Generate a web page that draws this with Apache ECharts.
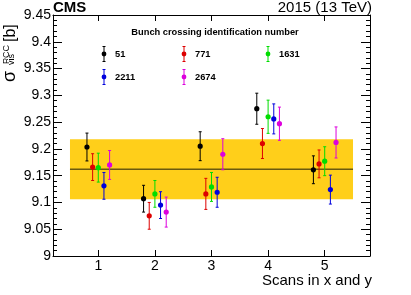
<!DOCTYPE html>
<html><head><meta charset="utf-8">
<script src="https://cdn.jsdelivr.net/npm/echarts@6/dist/echarts.min.js"></script>
<style>html,body{margin:0;padding:0;background:#fff}#c{width:411px;height:295px}</style>
</head><body><div id="c"></div>
<script>
// ---- data ----
const scans = [1, 2, 3, 4, 5];
const xTickLabels = [1, 2, 3, 4, 5];
const bcids = ['51', '771', '1631', '2211', '2674'];
const bcidOffsets = [-0.2, -0.1, 0, 0.1, 0.2];
const colors = ['#000000', '#dd0000', '#00dd00', '#0000dd', '#dd00dd'];
const sigma51   = [9.2035, 9.107, 9.205, 9.275, 9.161];
const sigma771  = [9.166, 9.075, 9.116, 9.210, 9.172];
const sigma1631 = [9.165, 9.116, 9.129, 9.260, 9.177];
const sigma2211 = [9.131, 9.095, 9.119, 9.256, 9.124];
const sigma2674 = [9.170, 9.082, 9.190, 9.247, 9.212];
const err51   = [0.026, 0.025, 0.027, 0.029, 0.026];
const err771  = [0.025, 0.025, 0.029, 0.028, 0.026];
const err1631 = [0.027, 0.025, 0.027, 0.031, 0.027];
const err2211 = [0.025, 0.025, 0.028, 0.028, 0.027];
const err2674 = [0.027, 0.028, 0.029, 0.031, 0.029];
const meanValue = 9.162;
const bandLow = 9.106, bandHigh = 9.218;
const bandXRange = [0.5, 5.5];
const yMin = 9, yMax = 9.45, yStep = 0.05;
const xMin = 0.2, xMax = 5.8;

const allSigma = [sigma51, sigma771, sigma1631, sigma2211, sigma2674];
const allErr = [err51, err771, err1631, err2211, err2674];

const FONT = 'Liberation Sans, Arial, sans-serif';

function errRender(params, api) {
  const x = api.value(0), y = api.value(1), e = api.value(2);
  const p = api.coord([x, y]);
  const t = api.coord([x, y + e]);
  const b = api.coord([x, y - e]);
  const col = api.visual('color');
  const st = { stroke: col, lineWidth: 1 };
  return { type: 'group', children: [
    { type: 'line', shape: { x1: p[0], y1: t[1], x2: p[0], y2: b[1] }, style: st },
    { type: 'line', shape: { x1: p[0] - 1.5, y1: t[1], x2: p[0] + 1.5, y2: t[1] }, style: st },
    { type: 'line', shape: { x1: p[0] - 1.5, y1: b[1], x2: p[0] + 1.5, y2: b[1] }, style: st },
    { type: 'circle', shape: { cx: p[0], cy: p[1], r: 2.6 }, style: { fill: col } }
  ]};
}

const series = [];
series.push({
  type: 'custom', xAxisIndex: 0, yAxisIndex: 0, silent: true, z: 1,
  data: [[bandXRange[0], bandLow, bandXRange[1], bandHigh]],
  renderItem: function (params, api) {
    const a = api.coord([api.value(0), api.value(3)]);
    const b = api.coord([api.value(2), api.value(1)]);
    return { type: 'rect', shape: { x: a[0], y: a[1], width: b[0] - a[0], height: b[1] - a[1] },
      style: { fill: '#ffcf1a' } };
  }
});
series.push({
  type: 'line', xAxisIndex: 0, yAxisIndex: 0, silent: true, z: 2, symbol: 'none',
  data: [[bandXRange[0], meanValue], [bandXRange[1], meanValue]],
  lineStyle: { color: '#6b5a0e', width: 1.5 }
});
bcids.forEach(function (id, i) {
  series.push({
    type: 'custom', name: id, xAxisIndex: 0, yAxisIndex: 0, z: 3,
    itemStyle: { color: colors[i] },
    data: scans.map(function (s, k) { return [s + bcidOffsets[i], allSigma[i][k], allErr[i][k]]; }),
    renderItem: errRender
  });
});

// legend graphics
const graphic = [];
graphic.push({ type: 'text', x: 53, y: 0, style: { text: 'CMS', font: 'bold 15px ' + FONT, fill: '#000', align: 'left', verticalAlign: 'top' } });
graphic.push({ type: 'text', x: 372, y: 0, style: { text: '2015 (13 TeV)', font: '15px ' + FONT, fill: '#000', align: 'right', verticalAlign: 'top' } });
graphic.push({ type: 'text', x: 372, y: 273, style: { text: 'Scans in x and y', font: '15px ' + FONT, fill: '#000', align: 'right', verticalAlign: 'top' } });
graphic.push({ type: 'text', x: 215, y: 32, style: { text: 'Bunch crossing identification number', font: 'bold 9.3px ' + FONT, fill: '#000', align: 'center', verticalAlign: 'middle' } });
const legPos = [[104, 54], [184, 54], [268, 54], [104, 77], [184, 77]];
bcids.forEach(function (id, i) {
  const lx = legPos[i][0], ly = legPos[i][1];
  const st = { stroke: colors[i], lineWidth: 1 };
  graphic.push({ type: 'line', shape: { x1: lx, y1: ly - 7.5, x2: lx, y2: ly + 7.5 }, style: st });
  graphic.push({ type: 'line', shape: { x1: lx - 1.5, y1: ly - 7.5, x2: lx + 1.5, y2: ly - 7.5 }, style: st });
  graphic.push({ type: 'line', shape: { x1: lx - 1.5, y1: ly + 7.5, x2: lx + 1.5, y2: ly + 7.5 }, style: st });
  graphic.push({ type: 'circle', shape: { cx: lx, cy: ly, r: 2.4 }, style: { fill: colors[i] } });
  graphic.push({ type: 'text', x: lx + 11, y: ly, style: { text: id, font: 'bold 9.3px ' + FONT, fill: '#000', align: 'left', verticalAlign: 'middle' } });
});
// y axis title (rotated group; local x runs upward on screen, local y to the right)
graphic.push({
  type: 'group', x: 15, y: 82, rotation: Math.PI / 2,
  children: [
    { type: 'text', x: 0, y: -5, style: { text: 'σ', font: '18px ' + FONT, fill: '#000', align: 'left', verticalAlign: 'middle' } },
    { type: 'text', x: 18, y: -8, style: { text: 'PCC', font: '9px ' + FONT, fill: '#000', align: 'left', verticalAlign: 'middle' } },
    { type: 'text', x: 17, y: -3, style: { text: 'vis', font: '9px ' + FONT, fill: '#000', align: 'left', verticalAlign: 'middle' } },
    { type: 'text', x: 40, y: -4.5, style: { text: '[b]', font: '16px ' + FONT, fill: '#000', align: 'left', verticalAlign: 'middle' } }
  ]
});

const axisLine = { show: true, onZero: false, lineStyle: { color: '#000', width: 1 } };
const chart = echarts.init(document.getElementById('c'), null, { renderer: 'canvas' });
chart.setOption({
  animation: false,
  backgroundColor: '#fff',
  grid: { left: 53, right: 41, top: 15, bottom: 39, containLabel: false },
  xAxis: [
    { type: 'value', min: xMin, max: xMax, position: 'bottom', axisLine: axisLine,
      axisTick: { inside: true, length: 6, customValues: xTickLabels, lineStyle: { color: '#000' } },
      axisLabel: { customValues: xTickLabels, color: '#000', fontSize: 14, fontFamily: FONT, margin: 3 },
      splitLine: { show: false } },
    { type: 'value', min: xMin, max: xMax, position: 'top', axisLine: axisLine,
      axisTick: { inside: true, length: 6, customValues: xTickLabels, lineStyle: { color: '#000' } },
      axisLabel: { show: false }, splitLine: { show: false } }
  ],
  yAxis: [
    { type: 'value', min: yMin, max: yMax, interval: yStep, position: 'left', axisLine: axisLine,
      axisTick: { inside: true, length: 9, lineStyle: { color: '#000' } },
      minorTick: { show: true, splitNumber: 5, length: 4, lineStyle: { color: '#000' } },
      axisLabel: { color: '#000', fontSize: 14, fontFamily: FONT, margin: 2 },
      splitLine: { show: false }, minorSplitLine: { show: false } },
    { type: 'value', min: yMin, max: yMax, interval: yStep, position: 'right', axisLine: axisLine,
      axisTick: { inside: true, length: 9, lineStyle: { color: '#000' } },
      minorTick: { show: true, splitNumber: 5, length: 4, lineStyle: { color: '#000' } },
      axisLabel: { show: false }, splitLine: { show: false }, minorSplitLine: { show: false } }
  ],
  series: series,
  graphic: graphic
});
</script></body></html>
